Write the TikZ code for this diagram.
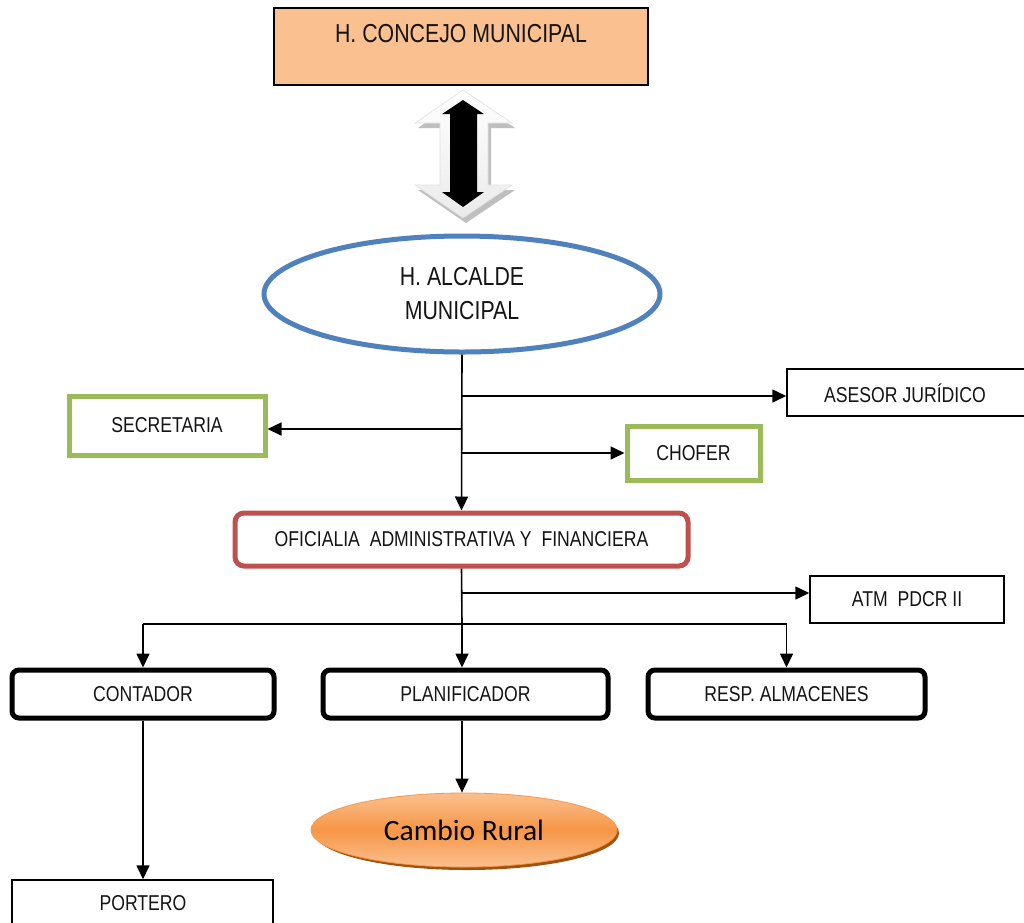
\documentclass[tikz,border=0pt]{standalone}
\usepackage{fontspec}
\setmainfont{Liberation Sans}[FakeStretch=0.82]
\newfontfamily\calibrifont{Carlito}
\usetikzlibrary{arrows.meta,shapes.geometric}

\definecolor{concejofill}{HTML}{FAC090}
\definecolor{alcaldeblue}{HTML}{4F81BD}
\definecolor{apoyogreen}{HTML}{9BBB59}
\definecolor{oficialred}{HTML}{C0504D}
\definecolor{naranja}{HTML}{F79646}
\definecolor{naranjaclaro}{HTML}{FAC090}
\definecolor{naranjaoscuro}{HTML}{A0520F}

\tikzset{
  x=1pt, y=-1pt,
  txt/.style={font=\fontsize{21.5}{25}\selectfont, text=black!92},
  plainbox/.style={txt, draw=black, line width=1.5, fill=white},
  greenbox/.style={txt, draw=apoyogreen, line width=5, fill=white},
  thickbox/.style={txt, draw=black, line width=5, fill=white, rounded corners=7},
  redbox/.style={txt, draw=oficialred, line width=5, fill=white, rounded corners=9},
  conn/.style={draw=black, line width=1.6, -{Triangle[length=14,width=13]}},
  line/.style={draw=black, line width=1.6},
}

\begin{document}
\begin{tikzpicture}
\clip (0,0) rectangle (1024,922);
\fill[white] (0,0) rectangle (1024,922);

% Council
\node[draw=black, line width=1.5, fill=concejofill, minimum width=374, minimum height=77]
  (concejo) at (461,46.5) {};
\node[font=\fontsize{26}{30}\selectfont, text=black!92] (concejotxt) at (461,34) {H. CONCEJO MUNICIPAL};

% Two-way relation arrow: shadow, light outer arrow, black inner arrow
\fill[black!25] (466,95) -- (515,128) -- (491,128) -- (491,190) -- (515,190) -- (466,223)
  -- (418,190) -- (443,190) -- (443,128) -- (418,128) -- cycle;
\shade[top color=white, bottom color=black!8, draw=black!12, line width=0.6]
  (463,90) -- (512,123) -- (488,123) -- (488,185) -- (512,185) -- (463,218)
  -- (415,185) -- (440,185) -- (440,123) -- (415,123) -- cycle;
\fill[black] (463,100) -- (484,114) -- (477,114) -- (477,192) -- (484,192) -- (463,207)
  -- (442,192) -- (450,192) -- (450,114) -- (442,114) -- cycle;

% Mayor
\node[ellipse, draw=alcaldeblue, line width=5, fill=white, minimum width=396, minimum height=116,
  align=center, font=\fontsize{26}{34}\selectfont, text=black!92, inner sep=0]
  (alcalde) at (462,294) {H. ALCALDE\\MUNICIPAL};

% Advisory and support staff
\node[plainbox, minimum width=250, minimum height=47] (asesor) at (912,392.5) {};
\node[txt] (asesortxt) at (905,393) {ASESOR JURÍDICO};
\node[greenbox, minimum width=196, minimum height=59] (secretaria) at (167,425.5) {SECRETARIA};
\node[greenbox, minimum width=133, minimum height=54] (chofer) at (693.5,453) {CHOFER};

% Administrative office
\node[redbox, minimum width=453, minimum height=53] (oficialia) at (461.5,539.5)
  {OFICIALIA\ \ ADMINISTRATIVA Y\ \ FINANCIERA};
\node[plainbox, minimum width=194, minimum height=47] (atm) at (907,599.5) {ATM\ \ PDCR II};

% Units
\node[thickbox, minimum width=262, minimum height=48] (contador) at (143,694) {CONTADOR};
\node[thickbox, minimum width=285, minimum height=48] (planificador) at (465.5,694) {PLANIFICADOR};
\node[thickbox, minimum width=277, minimum height=48] (resp) at (786.5,694) {RESP. ALMACENES};
\node[plainbox, minimum width=261, minimum height=56] (portero) at (142.5,908) {};
\node[txt] (porterotxt) at (143,903) {PORTERO};

% Rural programme
\fill[naranjaoscuro] (467,833) ellipse [x radius=152, y radius=37];
\node[ellipse, minimum width=306, minimum height=74, draw=naranja, line width=0.8,
  top color=naranjaclaro, bottom color=naranjaclaro, middle color=naranja,
  font=\calibrifont\fontsize{29.5}{34}\selectfont, text=black, inner sep=0]
  (cambio) at (464,830) {Cambio Rural};

% Connectors from the mayor
\coordinate (j1) at (462,396);
\coordinate (j2) at (462,429);
\coordinate (j3) at (462,453);
\draw[conn] (alcalde.south) -- (oficialia.north);
\draw[conn] (j1) -- (j1 -| asesor.west);
\draw[conn] (j2) -- (j2 -| secretaria.east);
\draw[conn] (j3) -- (j3 -| chofer.west);

% Connectors from the administrative office
\coordinate (j4) at (462,593);
\coordinate (bus) at (462,624);
\draw[line] (oficialia.south) -- (bus);
\draw[conn] (j4) -- (j4 -| atm.west);
\draw[line] (bus -| contador.north) -- (bus -| resp.north);
\draw[conn] (bus -| contador.north) -- (contador.north);
\draw[conn] (bus) -- (bus |- planificador.north);
\draw[conn] (bus -| resp.north) -- (resp.north);

% Lower connectors
\draw[conn] (contador.south) -- (portero.north -| contador.south);
\draw[conn] (planificador.south -| bus) -- (bus |- cambio.north);
\end{tikzpicture}
\end{document}
